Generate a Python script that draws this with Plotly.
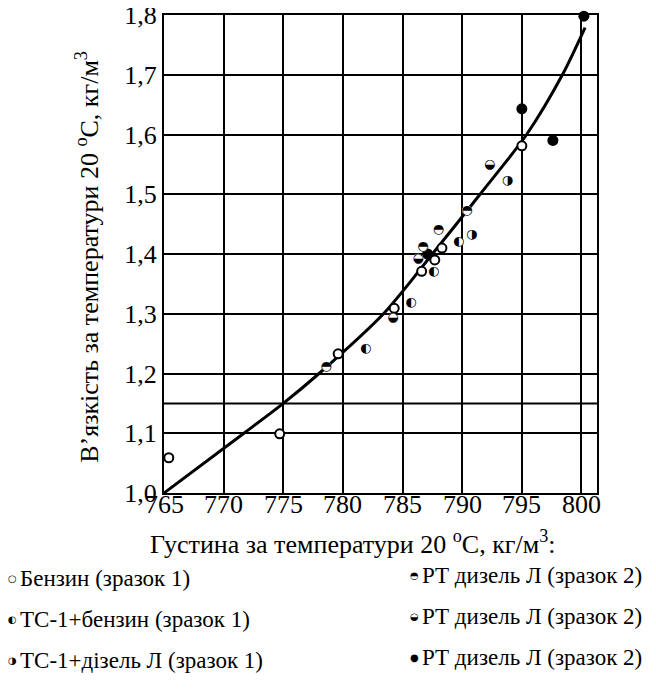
import plotly.graph_objects as go

# ---- data ----
benzyn_x = [765.4, 774.7, 779.6, 784.3, 787.7, 786.6, 788.3, 795.0]
benzyn_y = [1.059, 1.099, 1.233, 1.309, 1.390, 1.371, 1.410, 1.581]

ts1_benzyn_x = [781.9, 785.7, 787.6, 789.7]
ts1_benzyn_y = [1.241, 1.319, 1.371, 1.420]

ts1_dizel_x = [790.8, 793.8]
ts1_dizel_y = [1.432, 1.522]

rt1_x = [778.6, 786.7, 788.0, 790.4]
rt1_y = [1.212, 1.412, 1.440, 1.473]

rt2_x = [784.2, 786.3, 792.3]
rt2_y = [1.293, 1.392, 1.549]

rt3_x = [787.1, 795.0, 797.6, 800.2]
rt3_y = [1.400, 1.643, 1.590, 1.798]

curve_x = [765.0, 771.7, 775.0, 778.0, 783.4, 787.5, 791.5, 795.4, 798.4, 800.3]
curve_y = [1.00, 1.10, 1.15, 1.20, 1.30, 1.40, 1.50, 1.60, 1.70, 1.779]

x_ticks = [765, 770, 775, 780, 785, 790, 795, 800]
y_ticks = [1.0, 1.1, 1.2, 1.3, 1.4, 1.5, 1.6, 1.7, 1.8]
extra_grid_y = [1.15]

legend_left = ["Бензин (зразок 1)", "ТС-1+бензин (зразок 1)", "ТС-1+дізель Л (зразок 1)"]
legend_right = ["РТ дизель Л (зразок 2)", "РТ дизель Л (зразок 2)", "РТ дизель Л (зразок 2)"]
glyph_left = ["○", "◐", "◑"]
glyph_right = ["◓", "◒", "●"]

x_title = "Густина за температури 20 <sup>о</sup>C, кг/м<sup>3</sup>:"
y_title = "В’язкість за температури 20 <sup>о</sup>C, кг/м<sup>3</sup>"

SERIF = "serif"
GL = "DejaVu Sans"
FS = 26
FS_LEG = 23
GLS = 13

fig = go.Figure()

fig.add_trace(go.Scatter(x=curve_x, y=curve_y, mode="lines",
                         line=dict(color="black", width=3, shape="spline", smoothing=0.8),
                         showlegend=False, hoverinfo="skip"))

fig.add_trace(go.Scatter(x=benzyn_x, y=benzyn_y, mode="markers",
                         marker=dict(symbol="circle", size=9, color="white",
                                     line=dict(color="black", width=2)),
                         cliponaxis=False, showlegend=False))
fig.add_trace(go.Scatter(x=rt3_x, y=rt3_y, mode="markers",
                         marker=dict(symbol="circle", size=11, color="black",
                                     line=dict(color="black", width=0)),
                         cliponaxis=False, showlegend=False))

for xs, ys, g in [(ts1_benzyn_x, ts1_benzyn_y, "◐"),
                  (ts1_dizel_x, ts1_dizel_y, "◑"),
                  (rt1_x, rt1_y, "◓"),
                  (rt2_x, rt2_y, "◒")]:
    fig.add_trace(go.Scatter(x=xs, y=ys, mode="markers",
                             marker=dict(symbol="circle", size=10, color="white",
                                         line=dict(color="white", width=0)),
                             cliponaxis=False, showlegend=False, hoverinfo="skip"))
    fig.add_trace(go.Scatter(x=xs, y=ys, mode="text", text=[g] * len(xs),
                             textposition="middle center",
                             textfont=dict(family=GL, size=GLS, color="black"),
                             cliponaxis=False, showlegend=False))

for yv in extra_grid_y:
    fig.add_hline(y=yv, line=dict(color="black", width=2), layer="below")

axis_common = dict(showline=True, mirror=True, linecolor="black", linewidth=2,
                   showgrid=True, gridcolor="black", gridwidth=2, zeroline=False,
                   automargin=False, ticks="",
                   tickfont=dict(family=SERIF, size=FS, color="black"))

fig.update_xaxes(range=[765, 801.3], tickmode="array", tickvals=x_ticks,
                 showticklabels=False, **axis_common)
fig.update_yaxes(range=[1.0, 1.8], tickmode="array", tickvals=y_ticks,
                 ticktext=[f"{v:.1f}".replace(".", ",") for v in y_ticks],
                 ticklabeloverflow="allow", **axis_common)

ann = []
for v in x_ticks:
    ann.append(dict(text=str(v), xref="x", yref="paper", x=v, y=-0.0244,
                    xanchor="center", yanchor="middle", showarrow=False,
                    font=dict(family=SERIF, size=FS, color="black")))
ann.append(dict(text=x_title, xref="paper", yref="paper", x=0.4345, y=-0.104,
                xanchor="center", yanchor="middle", showarrow=False,
                font=dict(family=SERIF, size=FS, color="black")))
ann.append(dict(text=y_title, xref="paper", yref="paper", x=-0.1756, y=0.494,
                xanchor="center", yanchor="middle", showarrow=False, textangle=-90,
                font=dict(family=SERIF, size=FS, color="black")))

left_rows = [-0.179, -0.265, -0.351]
right_rows = [-0.173, -0.258, -0.344]
for i in range(3):
    ann.append(dict(text=glyph_left[i], xref="paper", yref="paper", x=-0.349, y=left_rows[i],
                    xanchor="center", yanchor="middle", showarrow=False,
                    font=dict(family=GL, size=10, color="black")))
    ann.append(dict(text=legend_left[i], xref="paper", yref="paper", x=-0.3374, y=left_rows[i],
                    xanchor="left", yanchor="middle", showarrow=False,
                    font=dict(family=SERIF, size=FS_LEG, color="black")))
    ann.append(dict(text=glyph_right[i], xref="paper", yref="paper", x=0.578, y=right_rows[i],
                    xanchor="center", yanchor="middle", showarrow=False,
                    font=dict(family=GL, size=10, color="black")))
    ann.append(dict(text=legend_right[i], xref="paper", yref="paper", x=0.592, y=right_rows[i],
                    xanchor="left", yanchor="middle", showarrow=False,
                    font=dict(family=SERIF, size=FS_LEG, color="black")))

# page body has an 8px margin; shrink the figure so the plot area lands where the reference has it
fig.update_layout(width=648, height=687, autosize=False,
                  margin=dict(l=156, r=59.3, t=6.7, b=201.7),
                  paper_bgcolor="white", plot_bgcolor="white",
                  showlegend=False, annotations=ann)

fig.write_html("out.html")
